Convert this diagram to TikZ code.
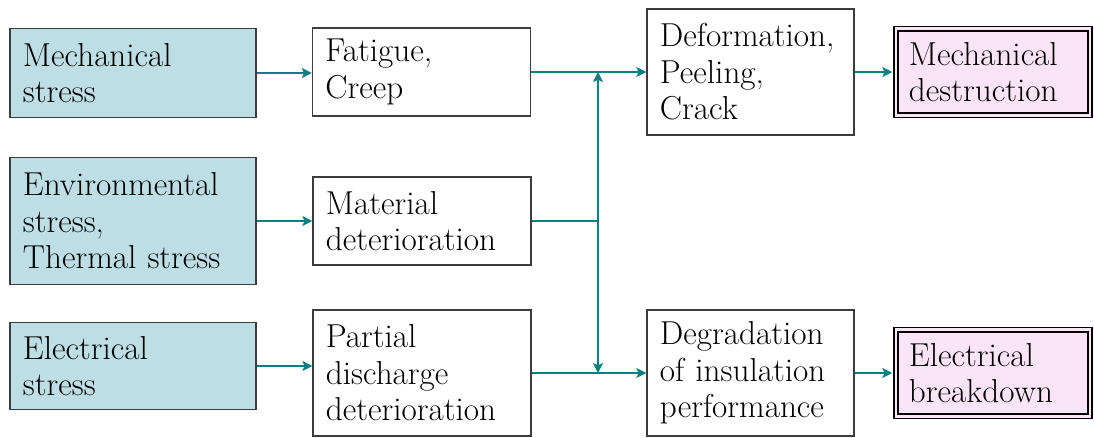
\documentclass[tikz,border=0pt]{standalone}
\usepackage{fontspec}
\usetikzlibrary{arrows.meta}
\definecolor{stressBlue}{RGB}{188,222,228}
\definecolor{failPink}{RGB}{252,228,248}
\definecolor{flowTeal}{RGB}{0,128,128}
\definecolor{edgeGray}{RGB}{60,60,60}
\tikzset{
  box/.style={draw=edgeGray, line width=1pt, align=left, inner xsep=0.325cm, inner ysep=2pt,
    font=\fontsize{23.6}{26}\selectfont},
  stressbox/.style={box, fill=stressBlue, text width=5.5cm},
  stagebox/.style={box, fill=white},
  failbox/.style={box, draw=black, line width=1.1pt, fill=failPink, double=failPink,
    double distance=2pt, text width=4.2cm, minimum height=2.16cm},
  flow/.style={flowTeal, line width=1.4pt, -{Stealth[length=7pt,width=7pt,inset=1.5pt]}},
}
\begin{document}
\hyphenpenalty=10000 \exhyphenpenalty=10000
\begin{tikzpicture}[x=0.025cm, y=-0.025cm]
  \useasboundingbox (0,0) rectangle (1094,437);

  % causes
  \node[stressbox, minimum height=2.225cm] (ms) at (133,73) {Mechanical\\stress};
  \node[stressbox, minimum height=3.175cm] (es) at (133,221) {Environmental\\stress,\\Thermal stress};
  \node[stressbox, minimum height=2.175cm] (els) at (133,366) {Electrical\\stress};

  % processes
  \node[stagebox, text width=4.8cm, minimum height=2.2cm] (fc) at (421.5,72) {Fatigue,\\Creep};
  \node[stagebox, text width=4.8cm, minimum height=2.2cm] (md) at (422,221) {Material\\deterioration};
  \node[stagebox, text width=4.8cm, minimum height=3.15cm] (pd) at (422,373) {Partial\\discharge\\deterioration};

  % effects
  \node[stagebox, text width=4.525cm, minimum height=3.15cm] (dpc) at (750.5,72) {Deformation,\\Peeling,\\Crack};
  \node[stagebox, text width=4.525cm, minimum height=3.14cm] (dip) at (750.5,373) {Degradation\\of insulation\\performance};

  % failures
  \node[failbox] (mdest) at (993,72) {Mechanical\\destruction};
  \node[failbox] (ebd) at (993,373) {Electrical\\breakdown};

  \coordinate (jx) at (598,0);

  \draw[flow] (ms.east) -- (ms.east -| fc.west);
  \draw[flow] (es.east) -- (es.east -| md.west);
  \draw[flow] (els.east) -- (els.east -| pd.west);

  \draw[flow] (fc.east) -- (fc.east -| dpc.west);
  \draw[flow] (pd.east) -- (pd.east -| dip.west);
  \draw[flowTeal, line width=1.4pt] (md.east) -- (md.east -| jx);
  \draw[flow] (md.east -| jx) -- (fc.east -| jx);
  \draw[flow] (md.east -| jx) -- (pd.east -| jx);

  \draw[flow, shorten >=2.1pt] (dpc.east) -- (dpc.east -| mdest.west);
  \draw[flow, shorten >=2.1pt] (dip.east) -- (dip.east -| ebd.west);
\end{tikzpicture}
\end{document}
